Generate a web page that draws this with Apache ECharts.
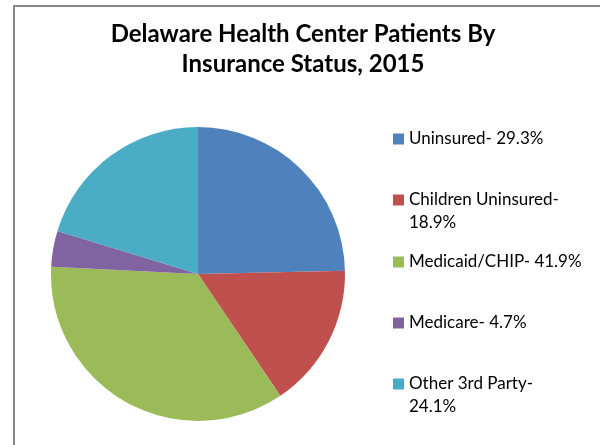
<!DOCTYPE html>
<html><head><meta charset="utf-8">
<script src="https://cdn.jsdelivr.net/npm/echarts@6/dist/echarts.min.js"></script>
<style>html,body{margin:0;padding:0;background:#fff}#c{width:600px;height:445px}</style>
</head><body><div id="c"></div>
<script>
const titleText = 'Delaware Health Center Patients By\nInsurance Status, 2015';
const categories = ['Uninsured- 29.3%', 'Children Uninsured-\n18.9%', 'Medicaid/CHIP- 41.9%', 'Medicare- 4.7%', 'Other 3rd Party-\n24.1%'];
const values = [29.3, 18.9, 41.9, 4.7, 24.1];
const colors = ['#4F81BD', '#C0504D', '#9BBB59', '#8064A2', '#4BACC6'];
const legendCenters = [139, 200, 262, 323, 384];

const FONT = 'Lato';
const LH = 23;
const chart = echarts.init(document.getElementById('c'), null, {renderer: 'canvas'});
const legends = categories.map((name, i) => {
  const twoLine = name.indexOf('\n') >= 0;
  return {
    orient: 'vertical', left: 393, top: legendCenters[i] - LH / 2 - (twoLine ? LH : 0),
    itemWidth: 11, itemHeight: 11, icon: 'rect', padding: 0,
    selectedMode: false,
    data: [name],
    formatter: twoLine ? (n => ' \n' + n) : (n => n),
    textStyle: {fontFamily: FONT, fontSize: 17, color: '#000', lineHeight: LH},
    itemGap: 0
  };
});
chart.setOption({
  animation: false,
  color: colors,
  title: {
    text: titleText, left: 298, top: 14, textAlign: 'center',
    textStyle: {fontFamily: FONT, fontWeight: 'bold', fontSize: 24, color: '#000', lineHeight: 30}
  },
  graphic: [{type: 'rect', shape: {x: 14, y: 6, width: 620, height: 470}, style: {fill: 'none', stroke: '#878787', lineWidth: 2}, silent: true}],
  legend: legends,
  series: [{
    type: 'pie', center: [198, 274], radius: 147, startAngle: 90, clockwise: true,
    label: {show: false}, labelLine: {show: false},
    itemStyle: {borderWidth: 0},
    emphasis: {disabled: true},
    data: categories.map((c, i) => ({name: c, value: values[i]}))
  }]
});
</script></body></html>
